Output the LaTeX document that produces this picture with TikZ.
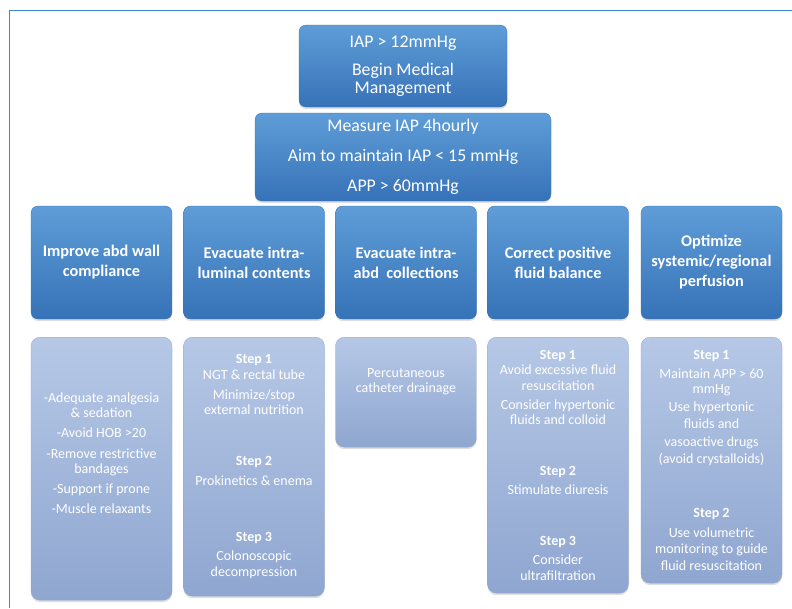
\documentclass[tikz,border=0pt]{standalone}
\usepackage{fontspec}
\setmainfont{Carlito}
\usetikzlibrary{shadows}
\definecolor{frameblue}{HTML}{3C88CC}
\definecolor{headtop}{HTML}{5F9DD8}
\definecolor{headbot}{HTML}{3672B7}
\definecolor{steptop}{HTML}{B6C8E6}
\definecolor{stepbot}{HTML}{8FA6D0}

\begin{document}
\begin{tikzpicture}[x=1pt,y=-1pt,
	headbox/.style={rounded corners=7pt, top color=headtop, bottom color=headbot,
		draw=headbot, line width=0.3pt, text=white, align=center, inner sep=0pt,
		drop shadow={opacity=0.25, shadow xshift=0pt, shadow yshift=-2pt}},
	topfont/.style={font=\fontsize{17.8}{19}\selectfont},
	colhead/.style={headbox, minimum width=141pt, minimum height=113pt,
		font=\bfseries\fontsize{16.3}{20}\selectfont},
	stepbox/.style={rounded corners=9pt, top color=steptop, bottom color=stepbot,
		draw=stepbot, line width=0.3pt, text=white, align=center, inner sep=0pt,
		anchor=north, minimum width=141pt,
		font=\fontsize{14}{15.5}\selectfont,
		drop shadow={opacity=0.25, shadow xshift=0pt, shadow yshift=-2pt}}]
	 		\useasboundingbox[fill=white] (0,0) rectangle (792,608);
	 		\draw[frameblue, line width=1.5pt] (9.5,608) -- (9.5,10.5) -- (792,10.5);
	 		% top of the flow
	 		\node[headbox, topfont, minimum width=208pt, minimum height=82pt] (start) at (403,66)
	 			{IAP > 12mmHg\\[9pt] Begin Medical\\[-1pt] Management};
	 		\node[headbox, topfont, minimum width=296pt, minimum height=88pt] (measure) at (403,157)
	 			{Measure IAP 4hourly\\[11pt] Aim to maintain IAP < 15 mmHg\\[11pt] APP > 60mmHg};
	 		% five goals
	 		\node[colhead] (wall) at (101.5,262.5) {Improve abd wall\\ compliance};
	 		\node[colhead] (lumen) at (254,262.5) {Evacuate intra-\\ luminal contents};
	 		\node[colhead] (abd) at (406,262.5) {Evacuate intra-\\ abd\ \ collections};
	 		\node[colhead] (fluid) at (558,262.5) {Correct positive\\ fluid balance};
	 		\node[colhead] (perf) at (711.5,262.5) {Optimize\\ systemic/regional\\ perfusion};
	 		% measures under each goal
	 		\node[stepbox, minimum height=263pt] (wallsteps) at (101.5,337)
	 			{-Adequate analgesia\\ \& sedation\\[4.5pt] -Avoid HOB >20\\[5pt] -Remove restrictive\\ bandages\\[4.5pt]
	 			 -Support if prone\\[4.5pt] -Muscle relaxants\\[16pt]};
	 		\node[stepbox, minimum height=259pt] (lumensteps) at (254,337)
	 			{\textbf{Step 1}\\ NGT \& rectal tube\\[4.5pt] Minimize/stop\\ external nutrition\\[35.5pt]
	 			 \textbf{Step 2}\\[4.5pt] Prokinetics \& enema\\[40.5pt]
	 			 \textbf{Step 3}\\[3.5pt] Colonoscopic\\ decompression};
	 		\node[stepbox, minimum height=110pt] (abdsteps) at (406,337)
	 			{Percutaneous\\ catheter drainage\\[8pt]};
	 		\node[stepbox, minimum height=256pt] (fluidsteps) at (558,337)
	 			{\textbf{Step 1}\\ Avoid excessive fluid\\ resuscitation\\[3.5pt] Consider hypertonic\\ fluids and colloid\\[35.5pt]
	 			 \textbf{Step 2}\\[3.5pt] Stimulate diuresis\\[35.5pt]
	 			 \textbf{Step 3}\\[3.5pt] Consider\\ ultrafiltration};
	 		\node[stepbox, minimum height=246pt] (perfsteps) at (711.5,337)
	 			{\textbf{Step 1}\\[3.5pt] Maintain APP > 60\\ mmHg\\[2.5pt] Use hypertonic\\[1.5pt] fluids and\\[2.5pt]
	 			 vasoactive drugs\\[1.5pt] (avoid crystalloids)\\[38.5pt]
	 			 \textbf{Step 2}\\[4.5pt] Use volumetric\\ monitoring to guide\\[1.5pt] fluid resuscitation};
	 	\end{tikzpicture}
\end{document}
